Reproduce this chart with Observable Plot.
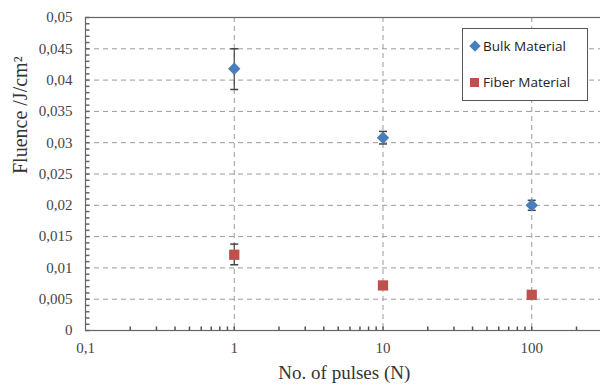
<!DOCTYPE html>
<html>
<head>
<meta charset="utf-8">
<script src="https://cdn.jsdelivr.net/npm/d3@7"></script>
<script src="https://cdn.jsdelivr.net/npm/@observablehq/plot@0.6"></script>
<style>
html, body { margin: 0; padding: 0; background: #fff; overflow: hidden; width: 600px; height: 389px; }
#chart { position: relative; width: 600px; height: 389px; overflow: hidden; }
#chart svg { max-width: none !important; display: block; }
#chart svg text { font-family: "Liberation Serif", "DejaVu Serif", serif; }
#legend { position: absolute; left: 462px; top: 28px; width: 126px; height: 73px; border: 1.5px solid #555; background: #fff; box-sizing: border-box; font-family: "Open Sans", "Liberation Sans", sans-serif; font-size: 13.5px; color: #222; }
#legend .item { position: absolute; left: 6px; display: flex; align-items: center; white-space: nowrap; }
#legend .sw { display: inline-block; margin-right: 4px; }
</style>
</head>
<body>
<div id="chart"></div>
<script>
// Data
const pulses = [1, 10, 100];
const bulkFluence = [0.0418, 0.0308, 0.0200];
const bulkLow = [0.0385, 0.0298, 0.0192];
const bulkHigh = [0.0450, 0.0318, 0.0208];
const fiberFluence = [0.0121, 0.0072, 0.0057];
const fiberLow = [0.0105, 0.0068, 0.0053];
const fiberHigh = [0.0138, 0.0076, 0.0061];
const seriesNames = ["Bulk Material", "Fiber Material"];
const seriesColors = ["#4a7ebb", "#c0504d"];
const yTicks = [0, 0.005, 0.01, 0.015, 0.02, 0.025, 0.03, 0.035, 0.04, 0.045, 0.05];
const yMinor = d3.range(0, 51).map(i => i / 1000);
const xTicks = [0.1, 1, 10, 100];
const xMinor = [0.1, 1, 10, 100].flatMap(d => [2,3,4,5,6,7,8,9].map(k => k * d));

const rows = [];
pulses.forEach((p, i) => {
  rows.push({series: seriesNames[0], x: p, y: bulkFluence[i], lo: bulkLow[i], hi: bulkHigh[i]});
  rows.push({series: seriesNames[1], x: p, y: fiberFluence[i], lo: fiberLow[i], hi: fiberHigh[i]});
});
const bulkRows = rows.filter(r => r.series === seriesNames[0]);
const fiberRows = rows.filter(r => r.series === seriesNames[1]);

const comma = d => String(d).replace(".", ",");
const capSymbol = {draw(ctx, size) { ctx.moveTo(-4, 0); ctx.lineTo(4, 0); }};
const xTickSymbol = {draw(ctx, size) { ctx.moveTo(0, 0); ctx.lineTo(0, -4); }};
const yTickSymbol = {draw(ctx, size) { ctx.moveTo(0, 0); ctx.lineTo(4, 0); }};

const serif = "Liberation Serif";

const plot = Plot.plot({
  width: 680,
  height: 389,
  marginTop: 17,
  marginBottom: 59,
  marginLeft: 85,
  marginRight: 0,
  style: {fontFamily: serif, fontSize: "15px", color: "#444", background: "#fff", maxWidth: "none"},
  x: {type: "log", domain: [0.1, 1000]},
  y: {domain: [0, 0.05]},
  marks: [
    Plot.ruleY(yTicks.filter(d => d > 0 && d < 0.05), {stroke: "#9a9a9a", strokeDasharray: "5,4", strokeWidth: 1}),
    Plot.ruleX([1, 10, 100], {stroke: "#9a9a9a", strokeDasharray: "5,4", strokeWidth: 1}),
    Plot.frame({stroke: "#666", strokeWidth: 1.2}),
    Plot.dot(xMinor, {x: d => d, y: 0, symbol: xTickSymbol, stroke: "#555", fill: null, r: 3}),
    Plot.dot([1, 10, 100], {x: d => d, y: 0, symbol: xTickSymbol, stroke: "#555", fill: null, r: 3}),
    Plot.dot(yMinor, {x: 0.1, y: d => d, symbol: yTickSymbol, stroke: "#666", fill: null, r: 3}),
    Plot.axisY({ticks: yTicks, tickFormat: comma, tickSize: 0, tickPadding: 13, label: null, fontSize: 15}),
    Plot.axisX({ticks: xTicks, tickFormat: comma, tickSize: 0, tickPadding: 12, label: null, fontSize: 15}),
    Plot.text(["Fluence /J/cm²"], {frameAnchor: "left", dx: -65, rotate: -90, fontSize: 20, fill: "#333"}),
    Plot.text(["No. of pulses (N)"], {frameAnchor: "bottom", dy: 48, x: Math.pow(10, 0.74), fontSize: 19, fill: "#333"}),
    // error bars
    Plot.ruleX(rows, {x: "x", y1: "lo", y2: "hi", stroke: "#444", strokeWidth: 1.2}),
    Plot.dot(rows, {x: "x", y: "lo", symbol: capSymbol, stroke: "#444", strokeWidth: 1.5, fill: null}),
    Plot.dot(rows, {x: "x", y: "hi", symbol: capSymbol, stroke: "#444", strokeWidth: 1.5, fill: null}),
    // markers
    Plot.dot(bulkRows, {x: "x", y: "y", symbol: "diamond2", r: 5.6, fill: seriesColors[0], stroke: null}),
    Plot.dot(fiberRows, {x: "x", y: "y", symbol: "square", r: 5.8, fill: seriesColors[1], stroke: null})
  ]
});
const chart = document.getElementById("chart");
chart.appendChild(plot);

// legend
const legend = document.createElement("div");
legend.id = "legend";
seriesNames.forEach((name, i) => {
  const item = document.createElement("div");
  item.className = "item";
  item.style.top = (i === 0 ? 8 : 44) + "px";
  const sw = document.createElement("span");
  sw.className = "sw";
  if (i === 0) {
    sw.style.width = "8px"; sw.style.height = "8px"; sw.style.background = seriesColors[0];
    sw.style.transform = "rotate(45deg)"; sw.style.margin = "0 4px 0 2px";
  } else {
    sw.style.width = "9px"; sw.style.height = "9px"; sw.style.background = seriesColors[1];
    sw.style.margin = "0 4px 0 1px";
  }
  item.appendChild(sw);
  const t = document.createElement("span");
  t.textContent = name;
  item.appendChild(t);
  legend.appendChild(item);
});
chart.appendChild(legend);
</script>
</body>
</html>
